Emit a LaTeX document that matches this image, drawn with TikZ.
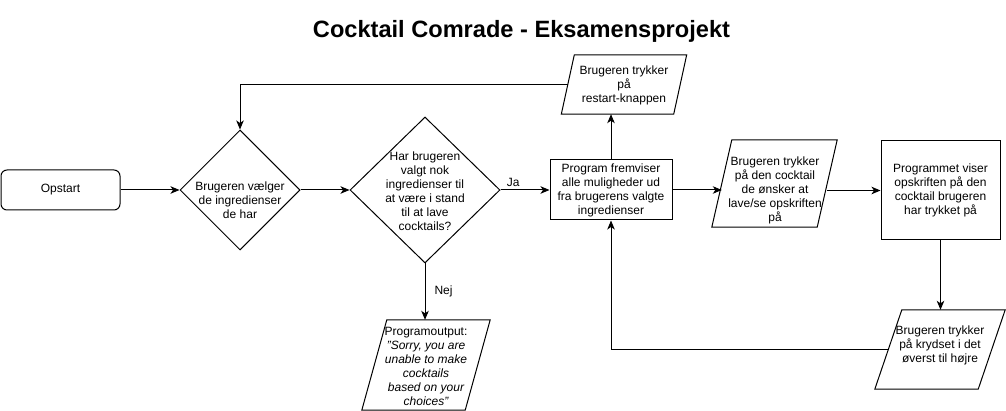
\documentclass[tikz,border=0pt]{standalone}
\usepackage{fontspec}
\setmainfont{Liberation Sans}
\usetikzlibrary{arrows.meta,shapes.geometric,calc}
\tikzset{
  box/.style={draw, line width=1pt, inner sep=0pt, align=center, font=\fontsize{12}{14}\selectfont},
  dia/.style={draw, diamond, line width=1pt, inner sep=0pt},
  txt/.style={inner sep=0pt, align=center, font=\fontsize{12}{14}\selectfont},
  ptxt/.style={inner sep=0pt, align=center, font=\fontsize{12}{14}\selectfont},
  conn/.style={line width=1pt, -{Stealth[length=9pt,width=7.5pt,inset=2.5pt]}},
  plain/.style={line width=1pt},
  lbl/.style={inner sep=0pt, font=\fontsize{12}{14}\selectfont},
}
\newcommand\parabox[6]{%
  \node[ptxt, minimum width=#3, minimum height=#4] (#1) at (#2) {};
  \draw[plain] ([xshift=#5/2]#1.north west) -- ([xshift=#5/2]#1.north east)
     -- ([xshift=-#5/2]#1.south east) -- ([xshift=-#5/2]#1.south west) -- cycle;
}
\begin{document}
\begin{tikzpicture}[x=1pt,y=-1pt]
\useasboundingbox (0,0) rectangle (1006,411);
\fill[white] (0,0) rectangle (1006,411);

\node[font=\bfseries\fontsize{23.6}{26}\selectfont, inner sep=0pt] (title) at (521.5,31) {Cocktail Comrade - Eksamensprojekt};

\node[box, rounded corners=6pt, minimum width=119, minimum height=40] (op) at (60.5,190) {Opstart};

\node[dia, minimum width=120, minimum height=120] (d1) at (240,190) {};
\node[txt] (d1t) at (240,200) {Brugeren vælger\\de ingredienser\\de har};

\node[dia, minimum width=150, minimum height=146] (d2) at (425,190) {};
\node[txt] (d2t) at (425,191) {Har brugeren\\valgt nok\\ingredienser til\\at være i stand\\til at lave\\cocktails?};

\node[box, minimum width=122, minimum height=60] (prog) at (611,190) {Program fremviser\\alle muligheder ud\\fra brugerens valgte\\ingredienser};

\parabox{rs}{624,84.5}{112}{59}{13}{}
\node[txt] (rst) at (624,85) {Brugeren trykker\\på\\restart-knappen};

\parabox{p2}{774.5,183.5}{105}{87}{20}{}
\node[txt] (p2t) at (775,190) {Brugeren trykker\\på den cocktail\\de ønsker at\\lave/se opskriften\\på};

\node[box, minimum width=119, minimum height=99] (b3) at (940.5,190.5) {Programmet viser\\opskriften på den\\cocktail brugeren\\har trykket på};

\parabox{p3}{940,349.5}{103}{79}{27}{}
\node[txt] (p3t) at (940,345.5) {Brugeren trykker\\på krydset i det\\øverst til højre};

\parabox{po}{426,365}{103}{90}{25}{}
\node[txt] (pot) at (426,366) {Programoutput:\\\itshape "Sorry, you are\\\itshape unable to make\\\itshape cocktails\\\itshape based on your\\\itshape choices"};

\draw[conn] (op.east) -- (d1.west);
\draw[conn] (d1.east) -- (d2.west);
\draw[conn] (d2.east) -- node[lbl, pos=0.26, above=3pt] (ja) {Ja} (prog.west);
\draw[conn] (d2.south) -- node[lbl, right=9pt] (nej) {Nej} (d2.south |- po.north);
\draw[conn] (prog.north) -- (prog.north |- rs.south);
\draw[conn] (rs.west) -| (d1.north);
\draw[conn] (prog.east) -- (prog.east -| p2.west);
\draw[conn] (b3.west -| p2.east) -- (b3.west);
\draw[conn] (b3.south) -- (b3.south |- p3.north);
\draw[conn] (p3.west) -| (prog.south);
\end{tikzpicture}
\end{document}
